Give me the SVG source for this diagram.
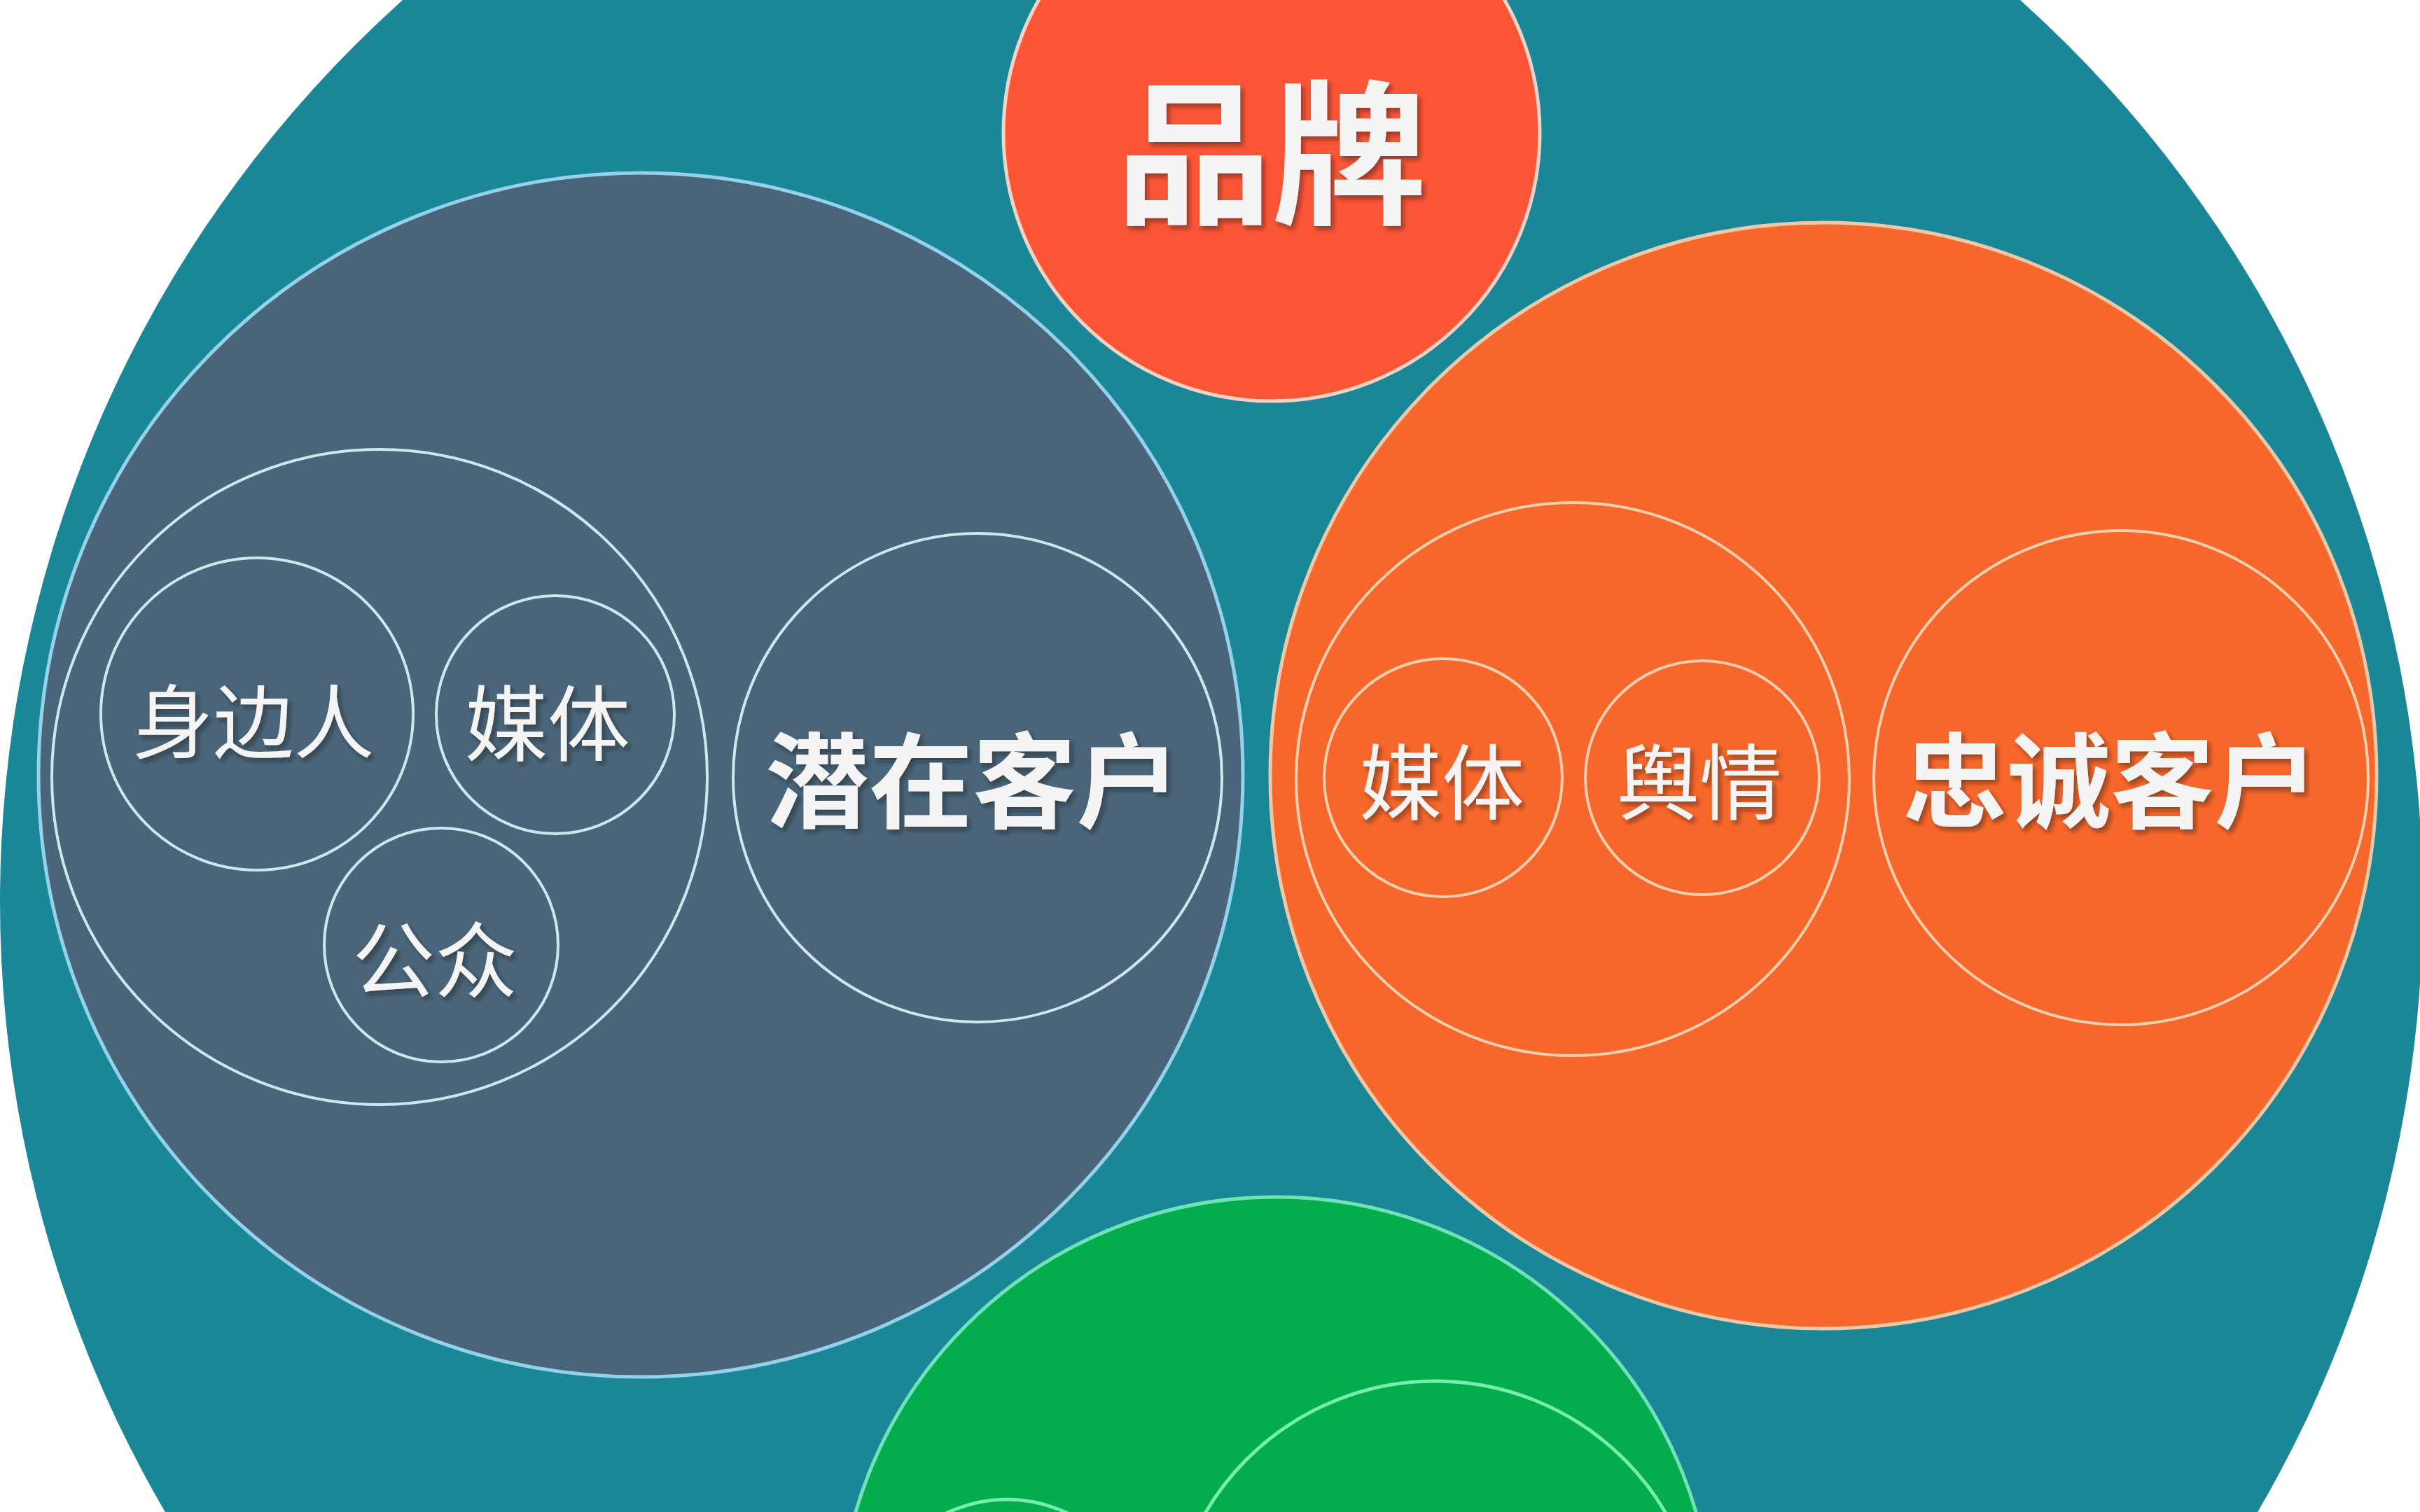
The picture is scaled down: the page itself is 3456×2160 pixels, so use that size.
<svg xmlns="http://www.w3.org/2000/svg" width="3456" height="2160" viewBox="0 0 3456 2160">
<defs>
<filter id="sh" x="-20%" y="-20%" width="140%" height="140%">
<feDropShadow dx="4" dy="5" stdDeviation="3" flood-color="#1a1a1a" flood-opacity="0.45"/>
</filter>
<style>
.lbl{font-family:"Noto Sans CJK SC","Noto Sans",sans-serif;text-anchor:middle;dominant-baseline:central;fill:#f4f4f4;filter:url(#sh)}
.big{font-weight:700;font-size:148px}
.sm{font-weight:400;font-size:118px}
.slate-in{fill:none;stroke:#cfe6f0;stroke-width:4}
.orange-in{fill:none;stroke:#f6cfae;stroke-width:4}
.green-in{fill:none;stroke:#74eeaa;stroke-width:5}
</style>
</defs>
<rect width="3456" height="2160" fill="#ffffff"/>
<g id="world">
<circle cx="1730" cy="1288" r="1730" fill="#1a8799"/>
</g>
<g id="connectors"/>
<g id="brand">
<circle cx="1816" cy="190" r="383" fill="#fb5536" stroke="#f3d3c8" stroke-width="5"/>
<text class="lbl" x="1816" y="205" style="font-weight:700;font-size:222px">品牌</text>
</g>
<g id="potential">
<circle cx="915" cy="1107" r="860" fill="#4a6579" stroke="#93d2ea" stroke-width="5"/>
<g id="potential-sources">
<circle class="slate-in" cx="542" cy="1110" r="468"/>
<g id="shenbianren">
<circle class="slate-in" cx="367" cy="1020" r="223"/>
<text class="lbl sm" x="362" y="1024" style="font-size:115px">身边人</text>
</g>
<g id="meiti-left">
<circle class="slate-in" cx="793" cy="1021" r="170"/>
<text class="lbl sm" x="782" y="1026">媒体</text>
</g>
<g id="gongzhong">
<circle class="slate-in" cx="630" cy="1350" r="167"/>
<text class="lbl sm" x="621" y="1364">公众</text>
</g>
</g>
<g id="potential-customer">
<circle class="slate-in" cx="1396" cy="1111" r="349"/>
<text class="lbl big" x="1389" y="1106">潜在客户</text>
</g>
</g>
<g id="loyal">
<circle cx="2604" cy="1108" r="790" fill="#f7672b" stroke="#ecc9a8" stroke-width="5"/>
<g id="loyal-sources">
<circle class="orange-in" cx="2246" cy="1113" r="395"/>
<g id="meiti-right">
<circle class="orange-in" cx="2061" cy="1111" r="170"/>
<text class="lbl sm" x="2059" y="1110">媒体</text>
</g>
<g id="yuqing">
<circle class="orange-in" cx="2431" cy="1111" r="167"/>
<text class="lbl sm" x="2427" y="1110">舆情</text>
</g>
</g>
<g id="loyal-customer">
<circle class="orange-in" cx="3029" cy="1111" r="353"/>
<text class="lbl big" x="3014" y="1106">忠诚客户</text>
</g>
</g>
<g id="green">
<circle cx="1822" cy="2335" r="625" fill="#03ad4e" stroke="#70e2b6" stroke-width="5"/>
<circle class="green-in" cx="1438" cy="2342" r="200"/>
<circle class="green-in" cx="2050" cy="2354" r="381"/>
</g>
</svg>
